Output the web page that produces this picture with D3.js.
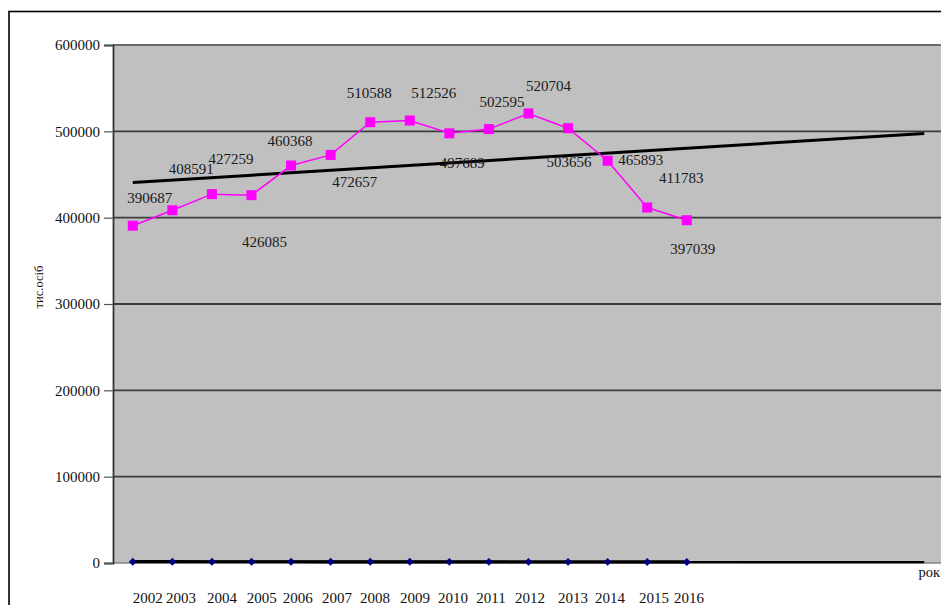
<!DOCTYPE html>
<html>
<head>
<meta charset="utf-8">
<script src="https://cdn.jsdelivr.net/npm/d3@7"></script>
<style>
  html, body { margin: 0; padding: 0; background: #fff; overflow: hidden; }
  svg { display: block; font-family: "Liberation Serif", "Times New Roman", serif; }
</style>
</head>
<body>
<svg id="chart" width="941" height="605"></svg>
<script>
// Years shown on the category axis (the axis runs on to 2022 for the forecast trend)
const years = d3.range(2002, 2023);
const labelledYears = d3.range(2002, 2017);

// Population, thousand persons
const population = [390687, 408591, 427259, 426085, 460368, 472657, 510588, 512526,
                    497689, 502595, 520704, 503656, 465893, 411783, 397039];

// Second series, close to zero on this scale
const secondSeries = [1520, 1490, 1470, 1440, 1420, 1400, 1380, 1360,
                      1340, 1320, 1300, 1280, 1260, 1240, 1220];

const yTicks = [0, 100000, 200000, 300000, 400000, 500000, 600000];

// Label placement (offsets from each point, px)
const labelDx = [17, 19, 19, 13, -1, 24, -1, 24, 13, 13, 20, 1, 33, 34, 6];
const labelDy = [-28, -41, -35, 47, -25, 27, -29, -28, 29, -27, -28, 34, -1, -30, 29];
const yearLabelDx = [15, 8.7, 10.1, 10.3, 6.7, 6.4, 4.8, 5.2, 3.7, 2.1, 1.5, 4.9, 2.3, 6.8, 2.2];

const svg = d3.select("#chart");
const plot = { left: 113, right: 944, top: 45, bottom: 563 };

const x = d3.scalePoint().domain(years).range([plot.left, plot.right]).padding(0.5);
const y = d3.scaleLinear().domain([0, 600000]).range([plot.bottom, plot.top]);

// outer frame
svg.append("rect").attr("x", 9).attr("y", 11.5).attr("width", 960).attr("height", 640)
  .attr("fill", "none").attr("stroke", "#000").attr("stroke-width", 1.6);

// plot background
svg.append("rect").attr("x", plot.left).attr("y", plot.top)
  .attr("width", plot.right - plot.left + 10).attr("height", plot.bottom - plot.top)
  .attr("fill", "#c0c0c0");

// horizontal gridlines
svg.append("g").selectAll("line").data(yTicks.filter(t => t > 0)).join("line")
  .attr("x1", plot.left).attr("x2", plot.right + 10)
  .attr("y1", d => y(d)).attr("y2", d => y(d))
  .attr("stroke", d => d === 600000 ? "#6a6a6a" : "#3c3c3c")
  .attr("stroke-width", 1.8);

// zero line
svg.append("line").attr("x1", plot.left).attr("x2", plot.right + 10)
  .attr("y1", y(0)).attr("y2", y(0)).attr("stroke", "#858585").attr("stroke-width", 1.6);

// y axis
const yAxis = svg.append("g").attr("transform", `translate(${plot.left},0)`)
  .call(d3.axisLeft(y).tickValues(yTicks).tickFormat(d3.format("d")).tickSize(9).tickPadding(4));
yAxis.select(".domain").attr("stroke", "#333").attr("stroke-width", 1.8);
yAxis.selectAll(".tick line").attr("stroke", "#555").attr("stroke-width", 1.2);
yAxis.selectAll(".tick text").attr("font-size", 15).attr("fill", "#111")
  .attr("font-family", "Liberation Serif, serif");

// y axis title
svg.append("text").attr("transform", "translate(43,287) rotate(-90)")
  .attr("text-anchor", "middle").attr("font-size", 12.5).attr("fill", "#111")
  .text("тис.осіб");

// x labels
svg.append("g").selectAll("text").data(labelledYears).join("text")
  .attr("x", (d, i) => x(d) + yearLabelDx[i]).attr("y", 603)
  .attr("text-anchor", "middle").attr("font-size", 15).attr("fill", "#111")
  .text(d => d);

svg.append("text").attr("x", 940).attr("y", 577).attr("text-anchor", "end")
  .attr("font-size", 14.5).attr("fill", "#111").text("рок");

// linear trend (least squares over the observed years), projected to 2022
function trend(values) {
  const n = values.length;
  const xs = d3.range(n);
  const mx = d3.mean(xs), my = d3.mean(values);
  const sxy = d3.sum(xs, (xi, i) => (xi - mx) * (values[i] - my));
  const sxx = d3.sum(xs, xi => (xi - mx) * (xi - mx));
  const b = sxy / sxx, a = my - b * mx;
  return [[years[0], a], [years[years.length - 1], a + b * (years.length - 1)]];
}

const line = d3.line().x(d => x(d[0])).y(d => y(d[1]));

// second series: line, trend, diamonds
const second = labelledYears.map((yr, i) => [yr, secondSeries[i]]);
svg.append("path").datum(second).attr("d", line)
  .attr("fill", "none").attr("stroke", "#000").attr("stroke-width", 3.2);
svg.append("path").datum(trend(secondSeries)).attr("d", line)
  .attr("fill", "none").attr("stroke", "#000").attr("stroke-width", 2.4);
svg.append("g").selectAll("path").data(second).join("path")
  .attr("transform", d => `translate(${x(d[0])},${y(d[1])})`)
  .attr("d", d3.symbol(d3.symbolDiamond2, 40)).attr("fill", "#000080");

// population trend
svg.append("path").datum(trend(population)).attr("d", line)
  .attr("fill", "none").attr("stroke", "#000").attr("stroke-width", 3);

// population series
const pop = labelledYears.map((yr, i) => [yr, population[i]]);
svg.append("path").datum(pop).attr("d", line)
  .attr("fill", "none").attr("stroke", "#ff00ff").attr("stroke-width", 1.5);
svg.append("g").selectAll("rect").data(pop).join("rect")
  .attr("x", d => x(d[0]) - 5).attr("y", d => y(d[1]) - 5)
  .attr("width", 10).attr("height", 10).attr("fill", "#ff00ff");

// value labels
svg.append("g").selectAll("text").data(pop).join("text")
  .attr("x", (d, i) => x(d[0]) + labelDx[i]).attr("y", (d, i) => y(d[1]) + labelDy[i])
  .attr("dy", "0.35em").attr("text-anchor", "middle")
  .attr("font-size", 15).attr("fill", "#1a1a1a")
  .text(d => d[1]);
</script>
</body>
</html>
